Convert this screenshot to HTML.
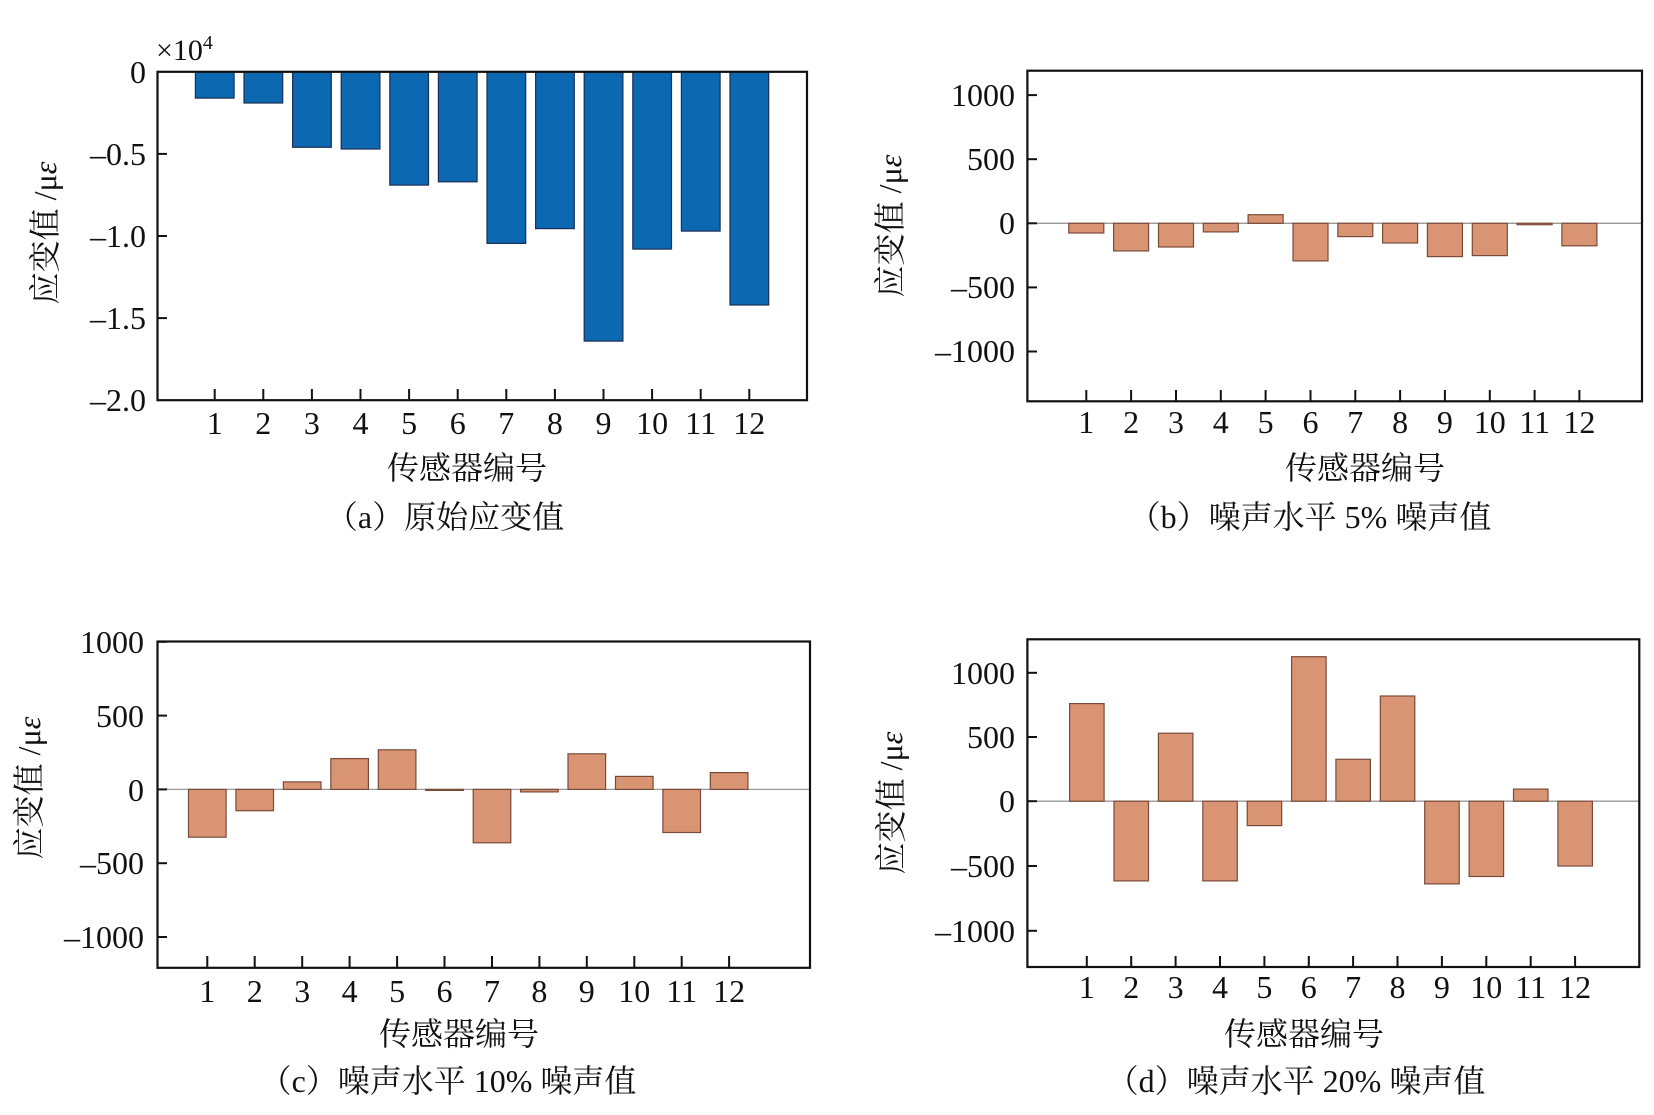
<!DOCTYPE html>
<html><head><meta charset="utf-8"><style>
html,body{margin:0;padding:0;background:#fff;}
svg{display:block;}
text{font-family:"Liberation Serif","Noto Serif CJK SC","Noto Sans CJK SC",serif;fill:#111;}
.t{font-size:32px;}
.cj{font-size:32px;}
.box{fill:none;stroke:#111;stroke-width:2.2;}
.tk{stroke:#111;stroke-width:2;}
.zl{stroke:#999;stroke-width:1.3;}
.ob{fill:#D99573;stroke:#7a4a38;stroke-width:1.2;}
.bb{fill:#0B68B1;stroke:#1a2f55;stroke-width:1.2;}
</style></head><body>
<svg width="1654" height="1115" viewBox="0 0 1654 1115" xmlns="http://www.w3.org/2000/svg">
<!-- Panel a -->
<g>
<rect class="bb" x="195.4" y="71.8" width="38.7" height="26.3"/>
<rect class="bb" x="244" y="71.8" width="38.7" height="31.2"/>
<rect class="bb" x="292.6" y="71.8" width="38.7" height="75.5"/>
<rect class="bb" x="341.2" y="71.8" width="38.7" height="77.2"/>
<rect class="bb" x="389.8" y="71.8" width="38.7" height="113.3"/>
<rect class="bb" x="438.4" y="71.8" width="38.7" height="110"/>
<rect class="bb" x="487" y="71.8" width="38.7" height="171.6"/>
<rect class="bb" x="535.6" y="71.8" width="38.7" height="156.8"/>
<rect class="bb" x="584.2" y="71.8" width="38.7" height="269.3"/>
<rect class="bb" x="632.8" y="71.8" width="38.7" height="177.3"/>
<rect class="bb" x="681.4" y="71.8" width="38.7" height="159.3"/>
<rect class="bb" x="730" y="71.8" width="38.7" height="233.2"/>
<rect class="box" x="157.5" y="71.8" width="649.5" height="328.4"/>
<g class="tk">
<line x1="157.5" y1="153.9" x2="167" y2="153.9"/><line x1="157.5" y1="236" x2="167" y2="236"/><line x1="157.5" y1="318.1" x2="167" y2="318.1"/>
<line x1="214.7" y1="400" x2="214.7" y2="389"/><line x1="263.3" y1="400" x2="263.3" y2="389"/><line x1="311.9" y1="400" x2="311.9" y2="389"/><line x1="360.5" y1="400" x2="360.5" y2="389"/><line x1="409.1" y1="400" x2="409.1" y2="389"/><line x1="457.7" y1="400" x2="457.7" y2="389"/><line x1="506.3" y1="400" x2="506.3" y2="389"/><line x1="554.9" y1="400" x2="554.9" y2="389"/><line x1="603.5" y1="400" x2="603.5" y2="389"/><line x1="652.1" y1="400" x2="652.1" y2="389"/><line x1="700.7" y1="400" x2="700.7" y2="389"/><line x1="749.3" y1="400" x2="749.3" y2="389"/>
</g>
<g class="t" text-anchor="end">
<text x="146" y="83">0</text><text x="146" y="165">–0.5</text><text x="146" y="247">–1.0</text><text x="146" y="329">–1.5</text><text x="146" y="411">–2.0</text>
</g>
<text x="156" y="60" style="font-size:30px">×10<tspan dy="-11" style="font-size:20px">4</tspan></text>
<g class="t" text-anchor="middle">
<text x="214.7" y="434">1</text><text x="263.3" y="434">2</text><text x="311.9" y="434">3</text><text x="360.5" y="434">4</text><text x="409.1" y="434">5</text><text x="457.7" y="434">6</text><text x="506.3" y="434">7</text><text x="554.9" y="434">8</text><text x="603.5" y="434">9</text><text x="652.1" y="434">10</text><text x="700.7" y="434">11</text><text x="749.3" y="434">12</text>
</g>
<text class="cj" x="467" y="479" text-anchor="middle">传感器编号</text>
<text class="cj" x="445" y="528" text-anchor="middle">（a）原始应变值</text>
<text class="cj" transform="translate(56,233) rotate(-90)" text-anchor="middle">应变值 /μ<tspan font-style="italic">ε</tspan></text>
</g>

<!-- Panel b -->
<g>
<line class="zl" x1="1027.4" y1="223.3" x2="1642" y2="223.3"/>
<rect class="ob" x="1068.8" y="223.3" width="35" height="9.7"/>
<rect class="ob" x="1113.6" y="223.3" width="35" height="27.6"/>
<rect class="ob" x="1158.5" y="223.3" width="35" height="23.7"/>
<rect class="ob" x="1203.3" y="223.3" width="35" height="8.6"/>
<rect class="ob" x="1248.1" y="214.7" width="35" height="8.6"/>
<rect class="ob" x="1293" y="223.3" width="35" height="37.6"/>
<rect class="ob" x="1337.8" y="223.3" width="35" height="13.3"/>
<rect class="ob" x="1382.6" y="223.3" width="35" height="19.7"/>
<rect class="ob" x="1427.4" y="223.3" width="35" height="33.3"/>
<rect class="ob" x="1472.3" y="223.3" width="35" height="32.3"/>
<rect class="ob" x="1517.1" y="223.3" width="35" height="1.4"/>
<rect class="ob" x="1561.9" y="223.3" width="35" height="22.5"/>
<rect class="box" x="1027.4" y="70.7" width="614.6" height="330.6"/>
<g class="tk">
<line x1="1027.4" y1="95.1" x2="1037" y2="95.1"/><line x1="1027.4" y1="159.2" x2="1037" y2="159.2"/><line x1="1027.4" y1="223.3" x2="1037" y2="223.3"/><line x1="1027.4" y1="287.4" x2="1037" y2="287.4"/><line x1="1027.4" y1="351.5" x2="1037" y2="351.5"/>
<line x1="1086.3" y1="401" x2="1086.3" y2="390"/><line x1="1131.1" y1="401" x2="1131.1" y2="390"/><line x1="1176" y1="401" x2="1176" y2="390"/><line x1="1220.8" y1="401" x2="1220.8" y2="390"/><line x1="1265.6" y1="401" x2="1265.6" y2="390"/><line x1="1310.5" y1="401" x2="1310.5" y2="390"/><line x1="1355.3" y1="401" x2="1355.3" y2="390"/><line x1="1400.1" y1="401" x2="1400.1" y2="390"/><line x1="1444.9" y1="401" x2="1444.9" y2="390"/><line x1="1489.8" y1="401" x2="1489.8" y2="390"/><line x1="1534.6" y1="401" x2="1534.6" y2="390"/><line x1="1579.4" y1="401" x2="1579.4" y2="390"/>
</g>
<g class="t" text-anchor="end">
<text x="1015" y="106">1000</text><text x="1015" y="170">500</text><text x="1015" y="234">0</text><text x="1015" y="298">–500</text><text x="1015" y="362">–1000</text>
</g>
<g class="t" text-anchor="middle">
<text x="1086.3" y="433">1</text><text x="1131.1" y="433">2</text><text x="1176" y="433">3</text><text x="1220.8" y="433">4</text><text x="1265.6" y="433">5</text><text x="1310.5" y="433">6</text><text x="1355.3" y="433">7</text><text x="1400.1" y="433">8</text><text x="1444.9" y="433">9</text><text x="1489.8" y="433">10</text><text x="1534.6" y="433">11</text><text x="1579.4" y="433">12</text>
</g>
<text class="cj" x="1365" y="479" text-anchor="middle">传感器编号</text>
<text class="cj" x="1310" y="528" text-anchor="middle">（b）噪声水平 5% 噪声值</text>
<text class="cj" transform="translate(901,226) rotate(-90)" text-anchor="middle">应变值 /μ<tspan font-style="italic">ε</tspan></text>
</g>

<!-- Panel c -->
<g>
<line class="zl" x1="157.5" y1="789.4" x2="810" y2="789.4"/>
<rect class="ob" x="188.5" y="789.4" width="37.6" height="47.8"/>
<rect class="ob" x="235.9" y="789.4" width="37.6" height="21.3"/>
<rect class="ob" x="283.4" y="781.9" width="37.6" height="7.5"/>
<rect class="ob" x="330.8" y="758.6" width="37.6" height="30.8"/>
<rect class="ob" x="378.3" y="749.8" width="37.6" height="39.6"/>
<rect class="ob" x="425.7" y="789.4" width="37.6" height="1"/>
<rect class="ob" x="473.2" y="789.4" width="37.6" height="53.4"/>
<rect class="ob" x="520.6" y="789.4" width="37.6" height="2.5"/>
<rect class="ob" x="568" y="753.8" width="37.6" height="35.6"/>
<rect class="ob" x="615.5" y="776.4" width="37.6" height="13"/>
<rect class="ob" x="662.9" y="789.4" width="37.6" height="43.1"/>
<rect class="ob" x="710.3" y="772.6" width="37.6" height="16.8"/>
<rect class="box" x="157.5" y="641.5" width="652.5" height="326.3"/>
<g class="tk">
<line x1="157.5" y1="641.8" x2="167" y2="641.8"/><line x1="157.5" y1="715.6" x2="167" y2="715.6"/><line x1="157.5" y1="789.4" x2="167" y2="789.4"/><line x1="157.5" y1="863.2" x2="167" y2="863.2"/><line x1="157.5" y1="937" x2="167" y2="937"/>
<line x1="207.3" y1="967.5" x2="207.3" y2="956"/><line x1="254.7" y1="967.5" x2="254.7" y2="956"/><line x1="302.2" y1="967.5" x2="302.2" y2="956"/><line x1="349.6" y1="967.5" x2="349.6" y2="956"/><line x1="397.1" y1="967.5" x2="397.1" y2="956"/><line x1="444.5" y1="967.5" x2="444.5" y2="956"/><line x1="492" y1="967.5" x2="492" y2="956"/><line x1="539.4" y1="967.5" x2="539.4" y2="956"/><line x1="586.8" y1="967.5" x2="586.8" y2="956"/><line x1="634.3" y1="967.5" x2="634.3" y2="956"/><line x1="681.7" y1="967.5" x2="681.7" y2="956"/><line x1="729.1" y1="967.5" x2="729.1" y2="956"/>
</g>
<g class="t" text-anchor="end">
<text x="144" y="653">1000</text><text x="144" y="727">500</text><text x="144" y="801">0</text><text x="144" y="874">–500</text><text x="144" y="948">–1000</text>
</g>
<g class="t" text-anchor="middle">
<text x="207.3" y="1002">1</text><text x="254.7" y="1002">2</text><text x="302.2" y="1002">3</text><text x="349.6" y="1002">4</text><text x="397.1" y="1002">5</text><text x="444.5" y="1002">6</text><text x="492" y="1002">7</text><text x="539.4" y="1002">8</text><text x="586.8" y="1002">9</text><text x="634.3" y="1002">10</text><text x="681.7" y="1002">11</text><text x="729.1" y="1002">12</text>
</g>
<text class="cj" x="459" y="1045" text-anchor="middle">传感器编号</text>
<text class="cj" x="448" y="1092" text-anchor="middle">（c）噪声水平 10% 噪声值</text>
<text class="cj" transform="translate(40,788) rotate(-90)" text-anchor="middle">应变值 /μ<tspan font-style="italic">ε</tspan></text>
</g>

<!-- Panel d -->
<g>
<line class="zl" x1="1027.4" y1="801.2" x2="1639" y2="801.2"/>
<rect class="ob" x="1069.6" y="703.6" width="34.5" height="97.6"/>
<rect class="ob" x="1114" y="801.2" width="34.5" height="79.7"/>
<rect class="ob" x="1158.4" y="733.2" width="34.5" height="68"/>
<rect class="ob" x="1202.8" y="801.2" width="34.5" height="79.7"/>
<rect class="ob" x="1247.2" y="801.2" width="34.5" height="24.4"/>
<rect class="ob" x="1291.6" y="656.7" width="34.5" height="144.5"/>
<rect class="ob" x="1335.9" y="759.3" width="34.5" height="41.9"/>
<rect class="ob" x="1380.3" y="696" width="34.5" height="105.2"/>
<rect class="ob" x="1424.7" y="801.2" width="34.5" height="82.7"/>
<rect class="ob" x="1469.1" y="801.2" width="34.5" height="75.3"/>
<rect class="ob" x="1513.5" y="789.1" width="34.5" height="12.1"/>
<rect class="ob" x="1557.9" y="801.2" width="34.5" height="64.8"/>
<rect class="box" x="1027.4" y="639.3" width="611.9" height="327.7"/>
<g class="tk">
<line x1="1027.4" y1="672.8" x2="1037" y2="672.8"/><line x1="1027.4" y1="737" x2="1037" y2="737"/><line x1="1027.4" y1="801.2" x2="1037" y2="801.2"/><line x1="1027.4" y1="866" x2="1037" y2="866"/><line x1="1027.4" y1="930.8" x2="1037" y2="930.8"/>
<line x1="1086.8" y1="967" x2="1086.8" y2="956"/><line x1="1131.2" y1="967" x2="1131.2" y2="956"/><line x1="1175.6" y1="967" x2="1175.6" y2="956"/><line x1="1220" y1="967" x2="1220" y2="956"/><line x1="1264.4" y1="967" x2="1264.4" y2="956"/><line x1="1308.8" y1="967" x2="1308.8" y2="956"/><line x1="1353.1" y1="967" x2="1353.1" y2="956"/><line x1="1397.5" y1="967" x2="1397.5" y2="956"/><line x1="1441.9" y1="967" x2="1441.9" y2="956"/><line x1="1486.3" y1="967" x2="1486.3" y2="956"/><line x1="1530.7" y1="967" x2="1530.7" y2="956"/><line x1="1575.1" y1="967" x2="1575.1" y2="956"/>
</g>
<g class="t" text-anchor="end">
<text x="1015" y="684">1000</text><text x="1015" y="748">500</text><text x="1015" y="812">0</text><text x="1015" y="877">–500</text><text x="1015" y="942">–1000</text>
</g>
<g class="t" text-anchor="middle">
<text x="1086.8" y="998">1</text><text x="1131.2" y="998">2</text><text x="1175.6" y="998">3</text><text x="1220" y="998">4</text><text x="1264.4" y="998">5</text><text x="1308.8" y="998">6</text><text x="1353.1" y="998">7</text><text x="1397.5" y="998">8</text><text x="1441.9" y="998">9</text><text x="1486.3" y="998">10</text><text x="1530.7" y="998">11</text><text x="1575.1" y="998">12</text>
</g>
<text class="cj" x="1304" y="1045" text-anchor="middle">传感器编号</text>
<text class="cj" x="1296" y="1092" text-anchor="middle">（d）噪声水平 20% 噪声值</text>
<text class="cj" transform="translate(902,803) rotate(-90)" text-anchor="middle">应变值 /μ<tspan font-style="italic">ε</tspan></text>
</g>
</svg>
</body></html>
